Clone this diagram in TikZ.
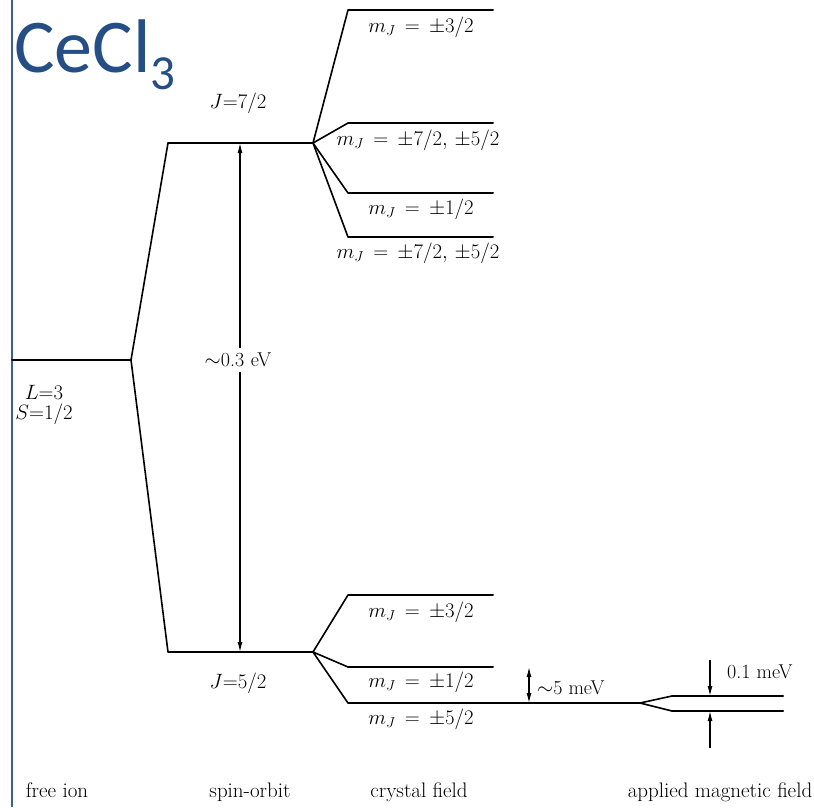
\documentclass[tikz,border=0pt]{standalone}
\usepackage{amsmath}
\usepackage{fontspec}
\usepackage{tikz}
\usetikzlibrary{positioning, arrows.meta, calc}
\newfontfamily\titlefont{Carlito}
\definecolor{titleblue}{RGB}{36,78,132}
\definecolor{rulerblue}{RGB}{60,95,150}

\begin{document}
\begin{tikzpicture}[
                x=1pt, y=-1pt,
                font=\fontsize{20}{22}\selectfont,
                level/.style={line width=2pt, line cap=round},
                split/.style={line width=1.6pt},
                gap/.style={{Latex[length=10pt,width=5pt]}-{Latex[length=10pt,width=5pt]}, line width=1.2pt},
                pointer/.style={-{Latex[length=10pt,width=5pt]}, line width=1.2pt},
                state_text/.style={inner sep=1pt},
                axis_text/.style={inner sep=1pt, anchor=base, font=\fontsize{21}{24}\selectfont}
            ]
                \useasboundingbox (0,0) rectangle (814,807);

                % Title and slide border
                \draw[rulerblue, line width=1.5pt] (12,0) -- (12,807);
                \node[titleblue, anchor=base west, inner sep=0pt, font=\titlefont\fontsize{76}{80}\selectfont] (title) at (14,72)
                    {CeCl\raisebox{-17pt}{\fontsize{49}{50}\selectfont 3}};

                % Free ion
                \coordinate (ionL) at (12,360);
                \coordinate (ionR) at (131,360);
                \draw[level] (ionL) -- (ionR);
                \node[inner sep=0pt, anchor=base] (Lval) at (44,399) {$L{=}3$};
                \node[inner sep=0pt, anchor=base] (Sval) at (44,419) {$S{=}1/2$};

                % Spin-orbit
                \coordinate (j7L) at (168,143);
                \coordinate (j7R) at (313,143);
                \coordinate (j5L) at (168,652);
                \coordinate (j5R) at (313,652);
                \draw[split] (ionR) -- (j7L);
                \draw[split] (ionR) -- (j5L);
                \draw[level] (j7L) -- (j7R);
                \draw[level] (j5L) -- (j5R);
                \node[state_text] (j7) at (238,103) {$J{=}7/2$};
                \node[state_text] (j5) at (238,683) {$J{=}5/2$};
                \coordinate (soTop) at (240,143);
                \coordinate (soBot) at (240,652);
                \draw[gap] (soTop) -- (soBot);
                \node[state_text, fill=white, inner sep=5pt] (so) at (238,360) {$\sim$0.3\,\,eV};

                % Crystal field, J=7/2
                \foreach \name/\y in {a/10, b/123, c/193, d/237} {
                    \coordinate (cf7\name L) at (348,\y);
                    \coordinate (cf7\name R) at (493,\y);
                    \draw[split] (j7R) -- (cf7\name L);
                    \draw[level] (cf7\name L) -- (cf7\name R);
                }
                \node[state_text] (m7a) at (421,27) {$m_J\,=\,\pm3/2$};
                \node[state_text] (m7b) at (418,140) {$m_J\,=\,\pm7/2,\,\pm5/2$};
                \node[state_text] (m7c) at (421,209) {$m_J\,=\,\pm1/2$};
                \node[state_text] (m7d) at (418,253) {$m_J\,=\,\pm7/2,\,\pm5/2$};

                % Crystal field, J=5/2
                \foreach \name/\y in {a/595, b/667} {
                    \coordinate (cf5\name L) at (348,\y);
                    \coordinate (cf5\name R) at (493,\y);
                    \draw[split] (j5R) -- (cf5\name L);
                    \draw[level] (cf5\name L) -- (cf5\name R);
                }
                \coordinate (cf5cL) at (348,703);
                \coordinate (cf5cR) at (640,703);
                \draw[split] (j5R) -- (cf5cL);
                \draw[level] (cf5cL) -- (cf5cR);
                \node[state_text] (m5a) at (421,612) {$m_J\,=\,\pm3/2$};
                \node[state_text] (m5b) at (421,682) {$m_J\,=\,\pm1/2$};
                \node[state_text] (m5c) at (421,719) {$m_J\,=\,\pm5/2$};
                \coordinate (cfTop) at (529,667);
                \coordinate (cfBot) at (529,703);
                \draw[gap] (cfTop) -- (cfBot);
                \node[state_text, anchor=west] (cf) at (536,688) {$\sim$5 meV};

                % Applied magnetic field
                \coordinate (zUpL) at (672,696);
                \coordinate (zUpR) at (783,696);
                \coordinate (zLoL) at (672,711);
                \coordinate (zLoR) at (783,711);
                \draw[split] (cf5cR) -- (zUpL);
                \draw[split] (cf5cR) -- (zLoL);
                \draw[level] (zUpL) -- (zUpR);
                \draw[level] (zLoL) -- (zLoR);
                \coordinate (zTop) at (710,660);
                \coordinate (zBot) at (710,748);
                \draw[pointer] (zTop) -- (710,696);
                \draw[pointer] (zBot) -- (710,711);
                \node[state_text, anchor=west] (zee) at (726,672) {0.1 meV};

                % Axis labels
                \node[axis_text] (ax1) at (57,797) {free ion};
                \node[axis_text] (ax2) at (250,797) {spin-orbit};
                \node[axis_text] (ax3) at (419,797) {crystal field};
                \node[axis_text] (ax4) at (720,797) {applied magnetic field};

            \end{tikzpicture}
\end{document}
